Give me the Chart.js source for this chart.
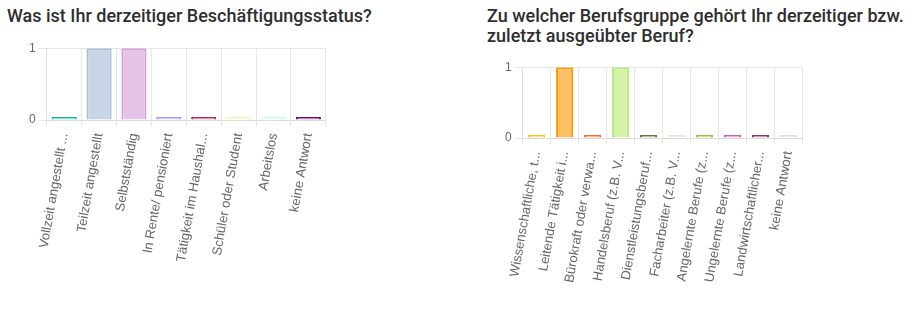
<!DOCTYPE html>
<html>
<head>
<meta charset="utf-8">
<script src="https://cdn.jsdelivr.net/npm/chart.js@4"></script>
<style>
    body { margin: 0; background: #fff; font-family: Roboto, Arial, sans-serif; }
    .title { position: absolute; font-size: 18px; font-weight: 500; color: #2e2e2e; line-height: 20px; margin: 0; }
    .box { position: absolute; }
</style>
</head>
<body>
<h3 class="title" style="left:7px; top:6px; width:450px;">Was ist Ihr derzeitiger Beschäftigungsstatus?</h3>
<div class="box" style="left:26px; top:38px; width:304px; height:228px;"><canvas id="statusChart"></canvas></div>

<h3 class="title" style="left:487px; top:6px; width:428px;">Zu welcher Berufsgruppe gehört Ihr derzeitiger bzw. zuletzt ausgeübter Beruf?</h3>
<div class="box" style="left:502px; top:57px; width:308px; height:237px;"><canvas id="jobChart"></canvas></div>

<script>
// Daten: Beschäftigungsstatus
const statusLabels = ['Vollzeit angestellt ...', 'Teilzeit angestellt', 'Selbstständig', 'In Rente/ pensioniert',
    'Tätigkeit im Haushal...', 'Schüler oder Student', 'Arbeitslos', 'keine Antwort'];
const statusValues = [0, 1, 1, 0, 0, 0, 0, 0];

// Daten: Berufsgruppe
const jobLabels = ['Wissenschaftliche, t...', 'Leitende Tätigkeit i...', 'Bürokraft oder verwa...', 'Handelsberuf (z.B. V...',
    'Dienstleistungsberuf...', 'Facharbeiter (z.B. V...', 'Angelernte Berufe (z...', 'Ungelernte Berufe (z...',
    'Landwirtschaftlicher...', 'keine Antwort'];
const jobValues = [0, 1, 0, 1, 0, 0, 0, 0, 0, 0];

const yTicks = [0, 1];

// Farben (Rahmen / Füllung)
const statusBorder = ['#20b2a0', '#a9bedb', '#d99bdb', '#9a9af8', '#a02d5c', '#f8f4b8', '#c8fafa', '#6a0a66'];
const statusFill = ['#7fd8cc', '#c8d5e5', '#e5c3e5', '#c8c8fb', '#d08aa8', '#fbf9d8', '#e2fdfd', '#b07aae'];
const jobBorder = ['#f7c412', '#ff9800', '#fb6a1e', '#b8e986', '#5f7b3d', '#dfead2', '#8cc63f', '#c162b3', '#7a3a6c', '#efd2e8'];
const jobFill = ['#fbe088', '#ffc066', '#fdb08a', '#d6f2a8', '#a8b894', '#eef4e6', '#c2e098', '#dcaed6', '#b890ad', '#f6e6f2'];

Chart.defaults.font.family = "'Liberation Sans', Arial, sans-serif";
Chart.defaults.font.size = 12;
Chart.defaults.color = '#666';

function renderBarChart(id, labels, values, border, fill, catPct, axisHeight) {
    const ctx = document.getElementById(id).getContext('2d');
    new Chart(ctx, {
        type: 'bar',
        data: {
            labels: labels,
            datasets: [{
                data: values,
                backgroundColor: fill,
                borderColor: border,
                borderWidth: 2,
                minBarLength: 3,
                barPercentage: 0.9,
                categoryPercentage: catPct
            }]
        },
        options: {
            responsive: true,
            maintainAspectRatio: false,
            animation: false,
            layout: { padding: 0 },
            plugins: { legend: { display: false }, tooltip: { enabled: false } },
            scales: {
                y: {
                    min: 0, max: 1,
                    afterBuildTicks: axis => { axis.ticks = yTicks.map(v => ({ value: v })); },
                    grid: { color: '#e6e6e6' },
                    border: { color: '#dcdcdc' }
                },
                x: {
                    ticks: { minRotation: 80, maxRotation: 80, autoSkip: false, padding: 6, font: { size: 13.2 } },
                    grid: { color: '#e6e6e6', tickLength: 6 },
                    border: { color: '#dcdcdc' },
                    // Achsenhöhe fest, damit lange Beschriftungen nicht abgeschnitten werden
                    afterFit: scale => { scale.height = axisHeight; }
                }
            }
        }
    });
}

renderBarChart('statusChart', statusLabels, statusValues, statusBorder, statusFill, 0.8, 146);
renderBarChart('jobChart', jobLabels, jobValues, jobBorder, jobFill, 0.68, 156);
</script>
</body>
</html>
